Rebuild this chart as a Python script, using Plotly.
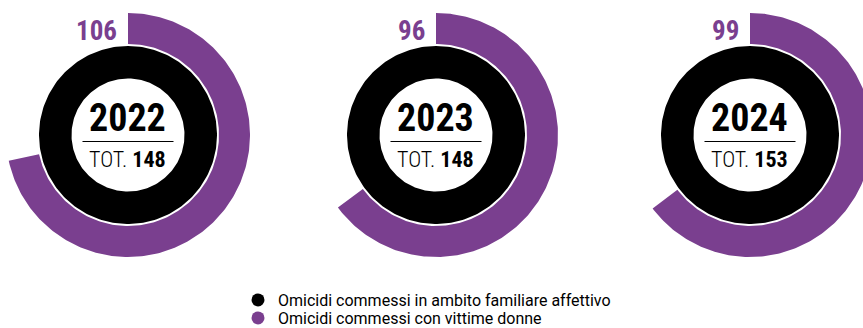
import numpy as np
import plotly.graph_objects as go

# Omicidi in ambito familiare/affettivo per anno e, fra questi, quelli con vittime donne
anni = ["2022", "2023", "2024"]
totale_familiare = [148, 148, 153]
vittime_donne = [106, 96, 99]

serie_nomi = ["Omicidi commessi in ambito familiare affettivo",
              "Omicidi commessi con vittime donne"]

NERO = "#000000"
VIOLA = "#7a3f8f"
FONT_NUM = "Roboto Condensed, Oswald, Liberation Sans Narrow, DejaVu Sans Condensed, sans-serif"

W, H = 863, 328
CENTRI_X = [128, 436, 750]
CY = 135
R_NERO = (56.5, 89)
R_VIOLA = (91, 122)


def anello(cx, cy, r_in, r_out, frazione, n=240):
    """Settore di corona circolare: parte dalle ore 12 e gira in senso orario."""
    t = np.linspace(0, 2 * np.pi * frazione, n)
    xo = cx + r_out * np.sin(t)
    yo = cy - r_out * np.cos(t)
    xi = cx + r_in * np.sin(t[::-1])
    yi = cy - r_in * np.cos(t[::-1])
    x = np.concatenate([xo, xi, xo[:1]])
    y = np.concatenate([yo, yi, yo[:1]])
    return x, y


fig = go.Figure()

for anno, tot, donne, cx in zip(anni, totale_familiare, vittime_donne, CENTRI_X):
    # anello esterno: quota di vittime donne sul totale
    x, y = anello(cx, CY, R_VIOLA[0], R_VIOLA[1], donne / tot)
    fig.add_trace(go.Scatter(x=x, y=y, mode="lines", fill="toself",
                             fillcolor=VIOLA, line=dict(width=0),
                             hoverinfo="skip", showlegend=False))
    # anello interno: totale in ambito familiare affettivo
    x, y = anello(cx, CY, R_NERO[0], R_NERO[1], tot / tot)
    fig.add_trace(go.Scatter(x=x, y=y, mode="lines", fill="toself",
                             fillcolor=NERO, line=dict(width=0),
                             hoverinfo="skip", showlegend=False))

    fig.add_annotation(x=cx - 1, y=118, text=f"<b>{anno}</b>", showarrow=False,
                       font=dict(family=FONT_NUM, size=38, color="#000"),
                       xanchor="center", yanchor="middle")
    fig.add_annotation(x=cx - 1, y=159.5,
                       text=f"<span style='font-weight:300'>TOT.</span> <b>{tot}</b>",
                       showarrow=False,
                       font=dict(family=FONT_NUM, size=22, color="#000"),
                       xanchor="center", yanchor="middle")
    fig.add_shape(type="line", x0=cx - 45.5, x1=cx + 45.5, y0=141.5, y1=141.5,
                  line=dict(color="#000", width=1.2))
    fig.add_annotation(x=cx - 9, y=31, text=f"<b>{donne}</b>", showarrow=False,
                       font=dict(family=FONT_NUM, size=27, color=VIOLA),
                       xanchor="right", yanchor="middle")

# voci di legenda, una per riga
for i, (nome, colore) in enumerate(zip(serie_nomi, [NERO, VIOLA])):
    fig.add_trace(go.Scatter(x=[None], y=[None], mode="markers", name=nome,
                             legend="legend" if i == 0 else f"legend{i + 1}",
                             marker=dict(color=colore, size=13, symbol="circle")))

legenda = dict(x=238 / W, xanchor="left", yanchor="top",
               font=dict(family="Roboto, sans-serif", size=16, color="#000"),
               bgcolor="rgba(0,0,0,0)", itemclick=False, itemdoubleclick=False)

fig.update_layout(
    width=W, height=H,
    margin=dict(l=0, r=0, t=0, b=0, autoexpand=False),
    paper_bgcolor="white", plot_bgcolor="white",
    xaxis=dict(range=[0, W], visible=False, fixedrange=True),
    yaxis=dict(range=[H, 0], visible=False, fixedrange=True),
    showlegend=True,
    legend=dict(legenda, y=1 - 283 / H),
    legend2=dict(legenda, y=1 - 301 / H),
)

fig.write_html("out.html")
